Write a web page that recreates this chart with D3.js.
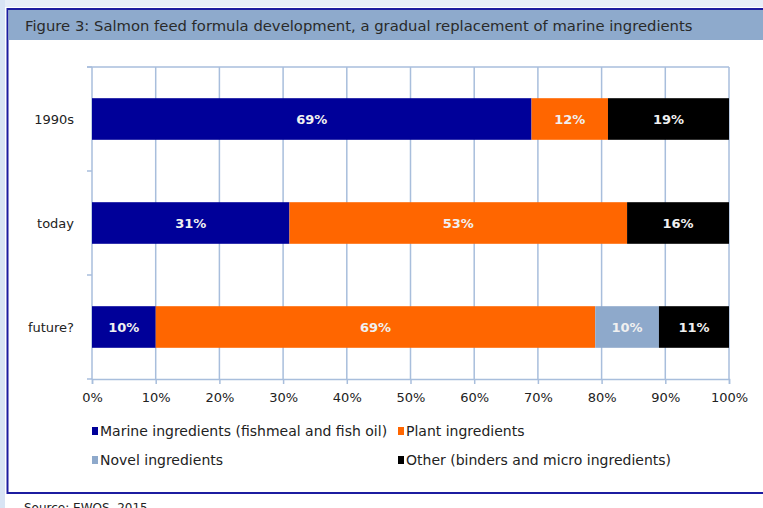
<!DOCTYPE html>
<html>
<head>
<meta charset="utf-8">
<script src="https://cdn.jsdelivr.net/npm/d3@7"></script>
<style>
  html, body { margin: 0; padding: 0; background: #ffffff; }
  svg { display: block; }
  text { font-family: "DejaVu Sans", Verdana, sans-serif; }
</style>
</head>
<body>
<svg id="chart" width="763" height="508"></svg>
<script>
// ---- data ----
const categories = ["1990s", "today", "future?"];
const seriesNames = [
  "Marine ingredients (fishmeal and fish oil)",
  "Plant ingredients",
  "Novel ingredients",
  "Other (binders and micro ingredients)"
];
const marine = [69, 31, 10];
const plant  = [12, 53, 69];
const novel  = [0, 0, 10];
const other  = [19, 16, 11];
const xTicks = [0, 10, 20, 30, 40, 50, 60, 70, 80, 90, 100];
const seriesColors = ["#000099", "#FF6600", "#8EA9CB", "#000000"];
const titleText = "Figure 3: Salmon feed formula development, a gradual replacement of marine ingredients";
const sourceText = "Source: EWOS, 2015";

const svg = d3.select("#chart");
const W = 763, H = 508;

// page decoration
svg.append("rect").attr("x", 0).attr("y", 0).attr("width", W).attr("height", 7).attr("fill", "#E6EEF8");
svg.append("rect").attr("x", 0).attr("y", 0).attr("width", 5).attr("height", H).attr("fill", "#D8E4F4");
svg.append("rect").attr("x", 7.5).attr("y", 9).attr("width", W + 20).attr("height", 484)
  .attr("fill", "#ffffff").attr("stroke", "#1C1CA0").attr("stroke-width", 2);
svg.append("rect").attr("x", 8.5).attr("y", 10).attr("width", W).attr("height", 30).attr("fill", "#8EAACC");
svg.append("text").attr("x", 25).attr("y", 31).attr("font-size", 14.8).attr("fill", "#2a2a2a").text(titleText);
svg.append("text").attr("x", 24).attr("y", 512).attr("font-size", 12).attr("fill", "#222").text(sourceText);

// scales
const plot = { left: 92, right: 729, top: 67, bottom: 379 };
const x = d3.scaleLinear().domain([0, 100]).range([plot.left, plot.right]);
const y = d3.scaleBand().domain(categories).range([plot.top, plot.bottom])
  .paddingInner(0.6).paddingOuter(0.3);
const yBands = d3.scaleBand().domain(categories).range([plot.top, plot.bottom]);

const axisColor = "#A8BEDC";

// gridlines
svg.append("g").selectAll("line").data(xTicks).join("line")
  .attr("x1", d => x(d)).attr("x2", d => x(d))
  .attr("y1", plot.top).attr("y2", plot.bottom)
  .attr("stroke", axisColor).attr("stroke-width", 1.5);

// top line
svg.append("line").attr("x1", plot.left - 5).attr("x2", plot.right)
  .attr("y1", plot.top).attr("y2", plot.top).attr("stroke", axisColor).attr("stroke-width", 1.5);

// y ticks at band boundaries
const boundaries = categories.map(c => yBands(c)).concat([plot.bottom]);
svg.append("g").selectAll("line").data(boundaries).join("line")
  .attr("x1", plot.left - 5).attr("x2", plot.left)
  .attr("y1", d => d).attr("y2", d => d)
  .attr("stroke", axisColor).attr("stroke-width", 1.5);

// stacked data
const rows = categories.map((c, i) => ({ cat: c, vals: [marine[i], plant[i], novel[i], other[i]] }));
const segs = [];
rows.forEach(r => {
  let acc = 0;
  r.vals.forEach((v, k) => {
    segs.push({ cat: r.cat, k, x0: acc, x1: acc + v, v });
    acc += v;
  });
});

const barG = svg.append("g");
barG.selectAll("rect").data(segs.filter(s => s.v > 0)).join("rect")
  .attr("x", d => x(d.x0)).attr("width", d => x(d.x1) - x(d.x0))
  .attr("y", d => y(d.cat)).attr("height", y.bandwidth())
  .attr("fill", d => seriesColors[d.k]);

barG.selectAll("text").data(segs.filter(s => s.v > 0)).join("text")
  .attr("x", d => (x(d.x0) + x(d.x1)) / 2)
  .attr("y", d => y(d.cat) + y.bandwidth() / 2 + 5)
  .attr("text-anchor", "middle").attr("font-size", 13).attr("font-weight", "bold")
  .attr("fill", "#F0F0F0").text(d => d.v + "%");

// x axis
const xAxis = svg.append("g").attr("transform", `translate(0,${plot.bottom})`)
  .call(d3.axisBottom(x).tickValues(xTicks).tickFormat(d => d + "%").tickSize(5).tickPadding(9));
xAxis.select(".domain").attr("stroke", axisColor).attr("stroke-width", 1.5);
xAxis.selectAll(".tick line").attr("stroke", axisColor).attr("stroke-width", 1.5);
xAxis.selectAll(".tick text").attr("font-size", 13).attr("fill", "#222")
  .attr("font-family", "DejaVu Sans, Verdana, sans-serif");

// y labels
svg.append("g").selectAll("text").data(categories).join("text")
  .attr("x", 74).attr("y", d => yBands(d) + yBands.bandwidth() / 2 + 5)
  .attr("text-anchor", "end").attr("font-size", 13).attr("fill", "#222").text(d => d);

// legend
const legendItems = [
  { name: seriesNames[0], color: seriesColors[0], col: 0, row: 0 },
  { name: seriesNames[1], color: seriesColors[1], col: 1, row: 0 },
  { name: seriesNames[2], color: seriesColors[2], col: 0, row: 1 },
  { name: seriesNames[3], color: seriesColors[3], col: 1, row: 1 }
];
const legX = [92, 398], legY = [431, 460];
const lg = svg.append("g").selectAll("g").data(legendItems).join("g")
  .attr("transform", d => `translate(${legX[d.col]},${legY[d.row]})`);
lg.append("rect").attr("x", 0).attr("y", -4).attr("width", 6).attr("height", 8).attr("fill", d => d.color);
lg.append("text").attr("x", 8).attr("y", 5).attr("font-size", 14).attr("fill", "#222").text(d => d.name);
</script>
</body>
</html>
